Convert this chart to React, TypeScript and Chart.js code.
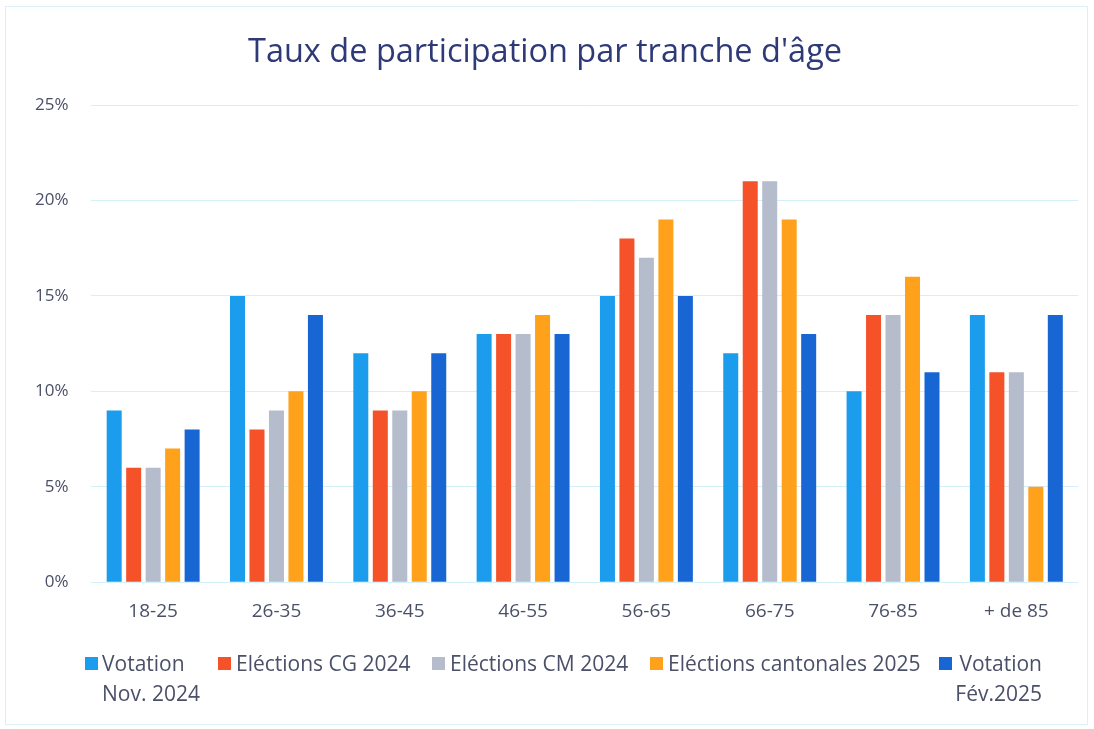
import React, { useEffect, useRef } from "react";
import { Chart, registerables } from "chart.js";

Chart.register(...registerables);

const categories = ["18-25", "26-35", "36-45", "46-55", "56-65", "66-75", "76-85", "+ de 85"];
const votationNov2024 = [9, 15, 12, 13, 15, 12, 10, 14];
const electionsCG2024 = [6, 8, 9, 13, 18, 21, 14, 11];
const electionsCM2024 = [6, 9, 9, 13, 17, 21, 14, 11];
const electionsCantonales2025 = [7, 10, 10, 14, 19, 19, 16, 5];
const votationFev2025 = [8, 14, 12, 13, 15, 13, 11, 14];
const yTicks = [0, 5, 10, 15, 20, 25];

const seriesNames = ["Votation Nov. 2024", "Eléctions CG 2024", "Eléctions CM 2024", "Eléctions cantonales 2025", "Votation Fév.2025"];
const seriesColors = ["#1b9cec", "#f5522a", "#b5bccb", "#ffa11a", "#1766d4"];

const FONT = "'Open Sans', 'Noto Sans', sans-serif";
const TEXT = "#4a5068";

export default function App() {
  const ref = useRef<HTMLCanvasElement | null>(null);

  useEffect(() => {
    document.body.style.margin = "0";
    if (!ref.current) return;
    const seriesData = [votationNov2024, electionsCG2024, electionsCM2024, electionsCantonales2025, votationFev2025];
    const chart = new Chart(ref.current, {
      type: "bar",
      data: {
        labels: categories,
        datasets: seriesData.map((d, i) => ({
          label: seriesNames[i],
          data: d,
          backgroundColor: seriesColors[i],
          categoryPercentage: 0.79,
          barPercentage: 0.77,
        })),
      },
      options: {
        animation: false,
        responsive: false,
        layout: { padding: { top: 0, left: 12, right: 16, bottom: 88 } },
        plugins: {
          legend: { display: false },
          tooltip: { enabled: false },
          title: {
            display: true,
            text: "Taux de participation par tranche d'âge",
            color: "#2e3a78",
            font: { family: FONT, size: 32.5, weight: "normal" },
            padding: { top: 33, bottom: 33 },
          },
        },
        scales: {
          x: {
            grid: { display: false, drawTicks: false },
            border: { display: false },
            ticks: { color: TEXT, font: { family: FONT, size: 19 }, padding: 18 },
          },
          y: {
            min: 0,
            max: 25,
            afterBuildTicks: (axis: any) => {
              axis.ticks = yTicks.map((v) => ({ value: v }));
            },
            grid: { color: "#d3eff8", lineWidth: 1, drawTicks: false },
            border: { display: false },
            ticks: {
              color: TEXT,
              font: { family: FONT, size: 17 },
              padding: 23,
              callback: (v: any) => v + "%",
            },
          },
        },
      },
    });
    return () => chart.destroy();
  }, []);

  const legendText: React.CSSProperties = {
    position: "absolute",
    fontFamily: FONT,
    fontSize: 21,
    color: TEXT,
    lineHeight: "30px",
    whiteSpace: "nowrap",
    top: 648,
  };
  const box = (left: number, color: string): React.CSSProperties => ({
    position: "absolute",
    left,
    top: 657,
    width: 13,
    height: 13,
    background: color,
  });

  return (
    <div style={{ position: "relative", width: 1094, height: 729, background: "#fff", overflow: "hidden" }}>
      <div style={{ position: "absolute", left: 5, top: 6, right: 6, bottom: 4, border: "1px solid #dcf0f6" }} />
      <canvas ref={ref} width={1094} height={729} style={{ position: "absolute", left: 0, top: 0 }} />
      <div style={box(85, seriesColors[0])} />
      <div style={{ ...legendText, left: 102 }}>Votation<br />Nov. 2024</div>
      <div style={box(218, seriesColors[1])} />
      <div style={{ ...legendText, left: 236 }}>Eléctions CG 2024</div>
      <div style={box(432, seriesColors[2])} />
      <div style={{ ...legendText, left: 450 }}>Eléctions CM 2024</div>
      <div style={box(650, seriesColors[3])} />
      <div style={{ ...legendText, left: 668 }}>Eléctions cantonales 2025</div>
      <div style={box(939, seriesColors[4])} />
      <div style={{ ...legendText, right: 52, textAlign: "right" }}>Votation<br />Fév.2025</div>
    </div>
  );
}
